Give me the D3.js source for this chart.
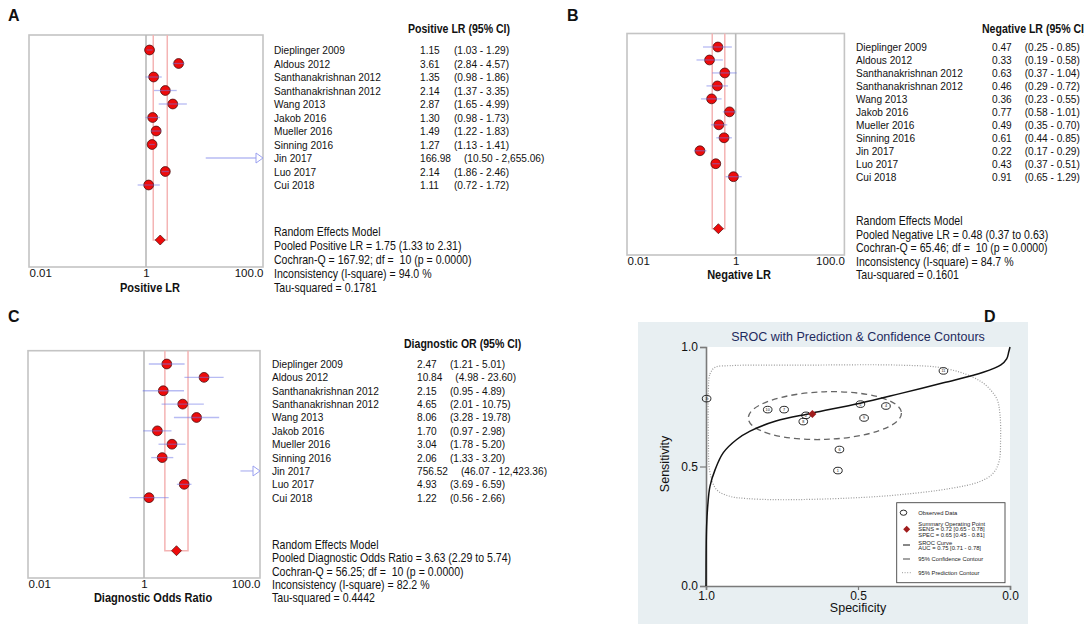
<!DOCTYPE html>
<html>
<head>
<meta charset="utf-8">
<script src="https://cdn.jsdelivr.net/npm/d3@7"></script>
<style>
  body { margin: 0; background: #fff; }
  text { font-family: "Liberation Sans", Arial, sans-serif; fill: #111; }
</style>
</head>
<body>
<div id="chart"></div>
<script>
// ---- data ----
const studies = ["Dieplinger 2009", "Aldous 2012", "Santhanakrishnan 2012", "Santhanakrishnan 2012",
  "Wang 2013", "Jakob 2016", "Mueller 2016", "Sinning 2016", "Jin 2017", "Luo 2017", "Cui 2018"];

const plrEst = [1.15, 3.61, 1.35, 2.14, 2.87, 1.30, 1.49, 1.27, 166.98, 2.14, 1.11];
const plrLo  = [1.03, 2.84, 0.98, 1.37, 1.65, 0.98, 1.22, 1.13, 10.50, 1.86, 0.72];
const plrHi  = [1.29, 4.57, 1.86, 3.35, 4.99, 1.73, 1.83, 1.41, 2655.06, 2.46, 1.72];
const plrPooled = [1.75, 1.33, 2.31];
const plrSummary = ["Random Effects Model", "Pooled Positive LR = 1.75 (1.33 to 2.31)",
  "Cochran-Q = 167.92; df =  10 (p = 0.0000)", "Inconsistency (I-square) = 94.0 %", "Tau-squared = 0.1781"];

const nlrEst = [0.47, 0.33, 0.63, 0.46, 0.36, 0.77, 0.49, 0.61, 0.22, 0.43, 0.91];
const nlrLo  = [0.25, 0.19, 0.37, 0.29, 0.23, 0.58, 0.35, 0.44, 0.17, 0.37, 0.65];
const nlrHi  = [0.85, 0.58, 1.04, 0.72, 0.55, 1.01, 0.70, 0.85, 0.29, 0.51, 1.29];
const nlrPooled = [0.48, 0.37, 0.63];
const nlrSummary = ["Random Effects Model", "Pooled Negative LR = 0.48 (0.37 to 0.63)",
  "Cochran-Q = 65.46; df =  10 (p = 0.0000)", "Inconsistency (I-square) = 84.7 %", "Tau-squared = 0.1601"];

const dorEst = [2.47, 10.84, 2.15, 4.65, 8.06, 1.70, 3.04, 2.06, 756.52, 4.93, 1.22];
const dorLo  = [1.21, 4.98, 0.95, 2.01, 3.28, 0.97, 1.78, 1.33, 46.07, 3.69, 0.56];
const dorHi  = [5.01, 23.60, 4.89, 10.75, 19.78, 2.98, 5.20, 3.20, 12423.36, 6.59, 2.66];
const dorPooled = [3.63, 2.29, 5.74];
const dorSummary = ["Random Effects Model", "Pooled Diagnostic Odds Ratio = 3.63 (2.29 to 5.74)",
  "Cochran-Q = 56.25; df =  10 (p = 0.0000)", "Inconsistency (I-square) = 82.2 %", "Tau-squared = 0.4442"];

const forestTicks = [0.01, 1, 100];
const forestTickLabels = ["0.01", "1", "100.0"];

// SROC panel
const obsSpec  = [0.219, 0.797, 0.480, 0.680, 0.743, 0.561, 0.492, 0.408, 0.998, 0.671, 0.566];
const obsSens  = [0.900, 0.738, 0.703, 0.688, 0.738, 0.571, 0.761, 0.753, 0.784, 0.714, 0.483];
const obsLabel = ["11", "10", "9", "8", "7", "6", "5", "4", "3", "2", "1"];
const sumPoint = { spec: 0.65, sens: 0.72 };
const srocSpec = [1.0, 0.9995, 0.998, 0.994, 0.987, 0.970, 0.943, 0.899, 0.855, 0.77, 0.652, 0.493, 0.362, 0.219, 0.088, 0.03, 0.011, 0.004, 0.0];
const srocSens = [0.0, 0.15, 0.25, 0.34, 0.417, 0.487, 0.558, 0.613, 0.648, 0.69, 0.723, 0.765, 0.805, 0.85, 0.894, 0.925, 0.95, 0.98, 1.0];
const predSpec = [0.992, 0.987, 0.970, 0.921, 0.691, 0.362, 0.220, 0.122, 0.076, 0.043, 0.033, 0.031, 0.036, 0.056, 0.099, 0.197, 0.362, 0.526, 0.757, 0.866, 0.921, 0.965, 0.987, 0.992];
const predSens = [0.824, 0.887, 0.915, 0.922, 0.924, 0.924, 0.912, 0.874, 0.836, 0.782, 0.718, 0.613, 0.521, 0.471, 0.437, 0.408, 0.382, 0.368, 0.361, 0.366, 0.375, 0.403, 0.475, 0.613];
const confEllipse = { spec: 0.609, sens: 0.713, halfSpec: 0.252, halfSens: 0.0996, angle: -2 };
const legendItems = [
  ["Observed Data"],
  ["Summary Operating Point", "SENS = 0.72 [0.65 - 0.78]", "SPEC = 0.65 [0.45 - 0.81]"],
  ["SROC Curve", "AUC = 0.75 [0.71 - 0.78]"],
  ["95% Confidence Contour"],
  ["95% Prediction Contour"]
];

// ---- drawing ----
const W = 1084, H = 630;
const svg = d3.select("#chart").append("svg")
  .attr("width", W).attr("height", H)
  .style("background", "#fff");

svg.append("defs").append("clipPath").attr("id", "leftclip")
  .append("rect").attr("x", 0).attr("y", 0).attr("width", 553).attr("height", H);

const fmt = d3.format(".2f");
const fmtCI = d3.format(",.2f");
const SX = 0.88; // the source figure's text is horizontally squeezed

function panelLabel(txt, x, y) {
  svg.append("text").attr("x", x).attr("y", y).text(txt)
    .style("font-size", "16px").style("font-weight", "bold");
}

// squeezed text helper
function stext(sel, x, y, size, txt, bold) {
  const t = sel.append("text")
    .attr("transform", `translate(${x},${y}) scale(${SX},1)`)
    .style("font-size", size + "px").style("white-space", "pre")
    .text(txt);
  if (bold) t.style("font-weight", "bold");
  return t;
}

function forest(cfg) {
  const g = svg.append("g");
  const x = d3.scaleLog().domain([0.01, 100]).range([cfg.left, cfg.right]);
  const y = d3.scaleLinear().domain([0, studies.length - 1]).range([cfg.row0, cfg.row10]);

  g.append("rect")
    .attr("x", cfg.left).attr("y", cfg.top)
    .attr("width", cfg.right - cfg.left).attr("height", cfg.bottom - cfg.top)
    .attr("fill", "none").attr("stroke", "#c4c4c4").attr("stroke-width", 1.6);

  g.append("line")
    .attr("x1", x(1)).attr("x2", x(1)).attr("y1", cfg.top).attr("y2", cfg.bottom)
    .attr("stroke", "#b9b9b9").attr("stroke-width", 1.6);

  g.append("path")
    .attr("d", `M${x(cfg.pooled[1])},${cfg.top}V${cfg.diamondY}H${x(cfg.pooled[2])}V${cfg.top}`)
    .attr("fill", "none").attr("stroke", "#f4b4b4").attr("stroke-width", 1.5);

  const rows = studies.map((s, i) => ({ name: s, est: cfg.est[i], lo: cfg.lo[i], hi: cfg.hi[i], i }));

  g.selectAll("circle.pt")
    .data(rows.filter(d => d.est <= 100 && d.est >= 0.01))
    .join("circle")
    .attr("class", "pt")
    .attr("cx", d => x(d.est)).attr("cy", d => y(d.i))
    .attr("r", 4.9)
    .attr("fill", "#ee0a0a").attr("stroke", "#4a1010").attr("stroke-width", 0.8);

  rows.forEach(d => {
    const x1 = Math.max(x(d.lo), cfg.left);
    const over = d.hi > 100;
    const x2 = over ? cfg.right - 7 : x(d.hi);
    g.append("line")
      .attr("x1", x1).attr("x2", x2).attr("y1", y(d.i)).attr("y2", y(d.i))
      .attr("stroke", "#6f78e8").attr("stroke-opacity", 0.5).attr("stroke-width", 1.3);
    if (over) {
      const yy = y(d.i);
      g.append("path")
        .attr("d", `M${cfg.right - 7},${yy - 5}L${cfg.right},${yy}L${cfg.right - 7},${yy + 5}Z`)
        .attr("fill", "#fff").attr("stroke", "#9aa0f0").attr("stroke-width", 1);
    }
  });

  const dx = x(cfg.pooled[0]), dy = cfg.diamondY;
  g.append("path")
    .attr("d", `M${dx - 5},${dy}L${dx},${dy - 5}L${dx + 5},${dy}L${dx},${dy + 5}Z`)
    .attr("fill", "#ee0a0a").attr("stroke", "#4a1010").attr("stroke-width", 0.7);

  // axis
  const ax = g.append("g")
    .attr("transform", `translate(0,${cfg.bottom})`)
    .call(d3.axisBottom(x).tickValues(forestTicks).tickSize(0).tickPadding(cfg.tickPad)
      .tickFormat((d, i) => forestTickLabels[i]));
  ax.select(".domain").remove();
  ax.selectAll("text")
    .style("font-size", "11.5px").style("font-family", "Liberation Sans, Arial, sans-serif").attr("fill", "#111")
    .attr("text-anchor", (d, i) => i === 0 ? "start" : (i === forestTicks.length - 1 ? "end" : "middle"));

  g.append("text")
    .attr("transform", `translate(${cfg.xTitleX},${cfg.xTitleY}) scale(0.92,1)`)
    .attr("text-anchor", "middle")
    .style("font-size", "12px").style("font-weight", "bold")
    .text(cfg.xTitle);

  // right-hand text table
  const t = svg.append("g");
  if (cfg.clip) t.attr("clip-path", "url(#leftclip)");
  stext(t, cfg.headX, cfg.headY, 12, cfg.header, true);

  rows.forEach(d => {
    const yy = y(d.i) + 4;
    stext(t, cfg.nameX, yy, 11.5, d.name);
    const v = stext(t, cfg.valX, yy, 11.5, fmt(d.est));
    const len = v.node().getComputedTextLength() * SX;
    stext(t, Math.max(cfg.ciX, cfg.valX + len + 13), yy, 11.5, `(${fmtCI(d.lo)} - ${fmtCI(d.hi)})`);
  });

  cfg.summary.forEach((s, i) => {
    stext(t, cfg.nameX, cfg.sumY + i * cfg.sumStep, 12, s);
  });
}

panelLabel("A", 8, 21);
forest({
  left: 29, right: 263, top: 35, bottom: 267, row0: 50, row10: 185, diamondY: 240,
  est: plrEst, lo: plrLo, hi: plrHi, pooled: plrPooled, summary: plrSummary,
  tickPad: 2, xTitle: "Positive LR", xTitleX: 150, xTitleY: 292,
  header: "Positive LR (95% CI)", headX: 408, headY: 33,
  nameX: 274, valX: 420, ciX: 454, sumY: 236, sumStep: 14, clip: true
});

panelLabel("B", 567, 21);
forest({
  left: 627, right: 844.4, top: 33.5, bottom: 255, row0: 47, row10: 176.7, diamondY: 228.7,
  est: nlrEst, lo: nlrLo, hi: nlrHi, pooled: nlrPooled, summary: nlrSummary,
  tickPad: 2, xTitle: "Negative LR", xTitleX: 739, xTitleY: 279,
  header: "Negative LR (95% CI)", headX: 982, headY: 33,
  nameX: 856, valX: 992, ciX: 1023, sumY: 225, sumStep: 13.5, clip: false
});

panelLabel("C", 8, 322);
forest({
  left: 28, right: 260, top: 350.7, bottom: 578, row0: 364, row10: 497.7, diamondY: 550.7,
  est: dorEst, lo: dorLo, hi: dorHi, pooled: dorPooled, summary: dorSummary,
  tickPad: 2, xTitle: "Diagnostic Odds Ratio", xTitleX: 153, xTitleY: 602,
  header: "Diagnostic OR (95% CI)", headX: 404, headY: 348,
  nameX: 272, valX: 417, ciX: 450, sumY: 549, sumStep: 13.3, clip: true
});

// ---- panel D: SROC ----
panelLabel("D", 984, 322);
const D = svg.append("g");
D.append("rect").attr("x", 638).attr("y", 322).attr("width", 390).attr("height", 302).attr("fill", "#e8eff2");
const pl = 706, pr = 1010, pt = 347, pb = 586;
D.append("rect").attr("x", pl).attr("y", pt).attr("width", pr - pl).attr("height", pb - pt).attr("fill", "#fff");

const xs = d3.scaleLinear().domain([1, 0]).range([pl, pr]);
const ys = d3.scaleLinear().domain([0, 1]).range([pb, pt]);

D.append("text").attr("x", 858).attr("y", 341).attr("text-anchor", "middle")
  .style("font-size", "12.5px").style("fill", "#1e2a5e")
  .text("SROC with Prediction & Confidence Contours");

const yAx = D.append("g").attr("transform", `translate(${pl},0)`)
  .call(d3.axisLeft(ys).tickValues([0, 0.5, 1]).tickFormat(d3.format(".1f")).tickSize(6).tickPadding(2));
const xAx = D.append("g").attr("transform", `translate(0,${pb})`)
  .call(d3.axisBottom(xs).tickValues([1, 0.5, 0]).tickFormat(d3.format(".1f")).tickSize(4).tickPadding(1));
[yAx, xAx].forEach(a => {
  a.select(".domain").attr("stroke", "#7a7a7a").attr("stroke-width", 1.6);
  a.selectAll(".tick line").attr("stroke", "#7a7a7a").attr("stroke-width", 1.2);
  a.selectAll("text").style("font-size", "12px").style("font-family", "Liberation Sans, Arial, sans-serif").attr("fill", "#222");
});

D.append("text").attr("x", 858).attr("y", 612).attr("text-anchor", "middle")
  .style("font-size", "12.5px").text("Specificity");
D.append("text").attr("transform", "translate(669,464) rotate(-90)").attr("text-anchor", "middle")
  .style("font-size", "12.5px").text("Sensitivity");

// prediction contour
D.append("path")
  .datum(predSpec.map((s, i) => [s, predSens[i]]))
  .attr("d", d3.line().x(d => xs(d[0])).y(d => ys(d[1])).curve(d3.curveCatmullRomClosed))
  .attr("fill", "none").attr("stroke", "#9a9a9a").attr("stroke-width", 1.2).attr("stroke-dasharray", "1,1.6");

// confidence contour
const ce = confEllipse;
D.append("ellipse")
  .attr("cx", xs(ce.spec)).attr("cy", ys(ce.sens))
  .attr("rx", Math.abs(xs(ce.spec + ce.halfSpec) - xs(ce.spec)))
  .attr("ry", Math.abs(ys(ce.sens + ce.halfSens) - ys(ce.sens)))
  .attr("transform", `rotate(${ce.angle},${xs(ce.spec)},${ys(ce.sens)})`)
  .attr("fill", "none").attr("stroke", "#666").attr("stroke-width", 1.3).attr("stroke-dasharray", "6,4");

// SROC curve
D.append("path")
  .datum(srocSpec.map((s, i) => [s, srocSens[i]]))
  .attr("d", d3.line().x(d => xs(d[0])).y(d => ys(d[1])).curve(d3.curveCatmullRom.alpha(0.5)))
  .attr("fill", "none").attr("stroke", "#111").attr("stroke-width", 1.5);

// observed points
const obs = obsSpec.map((s, i) => ({ spec: s, sens: obsSens[i], label: obsLabel[i] }));
const og = D.selectAll("g.obs").data(obs).join("g").attr("class", "obs")
  .attr("transform", d => `translate(${xs(d.spec)},${ys(d.sens)})`);
og.append("ellipse").attr("rx", 4.3).attr("ry", 3.3)
  .attr("fill", "none").attr("stroke", "#111").attr("stroke-width", 0.9);
og.append("text").attr("text-anchor", "middle").attr("y", 1.4)
  .style("font-size", "3.8px").text(d => d.label);

// summary operating point
const spx = xs(sumPoint.spec), spy = ys(sumPoint.sens);
D.append("path")
  .attr("d", `M${spx - 4},${spy}L${spx},${spy - 4}L${spx + 4},${spy}L${spx},${spy + 4}Z`)
  .attr("fill", "#a01c1c");

// legend
const lg = D.append("g");
lg.append("rect").attr("x", 896.7).attr("y", 502.7).attr("width", 108.3).attr("height", 80)
  .attr("fill", "#fff").attr("stroke", "#444").attr("stroke-width", 0.9);
const lgTextY = [[512.7], [524, 529.3, 534.7], [542.7, 548], [559], [572.7]];
const lgSymY = [512.7, 529.3, 545, 559, 572.7];
legendItems.forEach((lines, i) => {
  lines.forEach((l, j) => {
    lg.append("text").attr("x", 918.3).attr("y", lgTextY[i][j] + 2)
      .style("font-size", "5.8px").style("fill", "#222").text(l);
  });
});
lg.append("ellipse").attr("cx", 903.5).attr("cy", lgSymY[0]).attr("rx", 3.3).attr("ry", 2.6)
  .attr("fill", "none").attr("stroke", "#111").attr("stroke-width", 0.9);
lg.append("path")
  .attr("d", `M${906.7 - 3.5},${lgSymY[1]}L906.7,${lgSymY[1] - 3.5}L${906.7 + 3.5},${lgSymY[1]}L906.7,${lgSymY[1] + 3.5}Z`)
  .attr("fill", "#a01c1c");
lg.append("line").attr("x1", 903).attr("x2", 910).attr("y1", lgSymY[2]).attr("y2", lgSymY[2])
  .attr("stroke", "#111").attr("stroke-width", 1);
lg.append("line").attr("x1", 903).attr("x2", 910).attr("y1", lgSymY[3]).attr("y2", lgSymY[3])
  .attr("stroke", "#666").attr("stroke-width", 1.2);
lg.append("line").attr("x1", 902).attr("x2", 911).attr("y1", lgSymY[4]).attr("y2", lgSymY[4])
  .attr("stroke", "#999").attr("stroke-width", 1).attr("stroke-dasharray", "1,1.6");
</script>
</body>
</html>
